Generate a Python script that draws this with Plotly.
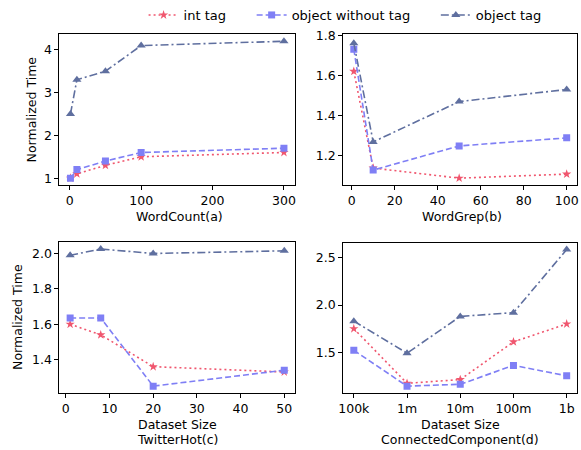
import plotly.graph_objects as go

# Panel (a) WordCount
wc_x = [1, 10, 50, 100, 300]
wc_int = [1.0, 1.1, 1.3, 1.5, 1.6]
wc_obj_no = [1.0, 1.2, 1.4, 1.6, 1.7]
wc_obj = [2.5, 3.3, 3.5, 4.1, 4.2]

# Panel (b) WordGrep
wg_x = [1, 10, 50, 100]
wg_int = [1.62, 1.14, 1.09, 1.11]
wg_obj_no = [1.73, 1.13, 1.25, 1.29]
wg_obj = [1.76, 1.27, 1.47, 1.53]

# Panel (c) TwitterHot
th_x = [1, 8, 20, 50]
th_int = [1.60, 1.54, 1.36, 1.33]
th_obj_no = [1.635, 1.635, 1.25, 1.34]
th_obj = [1.99, 2.025, 2.0, 2.015]

# Panel (d) ConnectedComponent
cc_x = ["100k", "1m", "10m", "100m", "1b"]
cc_int = [1.75, 1.17, 1.21, 1.61, 1.80]
cc_obj_no = [1.52, 1.14, 1.16, 1.36, 1.25]
cc_obj = [1.83, 1.49, 1.88, 1.92, 2.59]

series_names = ["int tag", "object without tag", "object tag"]
colors = ["#f0566e", "#7f7ff5", "#5f6f9f"]
dashes = ["2px,3px", "6px,3px", "8px,3px,2px,3px"]
symbols = ["star", "square", "triangle-up"]
msizes = [7, 7, 8]

W, H = 581, 450
def px_x(a, b):
    return [a / W, b / W]
def px_y(top, bottom):
    return [1 - bottom / H, 1 - top / H]

fig = go.Figure()

pad = "\u00a0" * 5
panels = [
    (wc_x, [wc_int, wc_obj_no, wc_obj], "x", "y"),
    (wg_x, [wg_int, wg_obj_no, wg_obj], "x2", "y2"),
    (th_x, [th_int, th_obj_no, th_obj], "x3", "y3"),
    (cc_x, [cc_int, cc_obj_no, cc_obj], "x4", "y4"),
]
for pi, (xs, ys, xa, ya) in enumerate(panels):
    for si in range(3):
        fig.add_trace(go.Scatter(
            x=xs, y=ys[si], xaxis=xa, yaxis=ya,
            mode="lines+markers", name=series_names[si] + pad,
            showlegend=(pi == 0),
            line=dict(color=colors[si], width=1.6, dash=dashes[si]),
            marker=dict(symbol=symbols[si], size=msizes[si], color=colors[si]),
        ))

font = dict(family="DejaVu Sans", size=12.5, color="#000")
axcommon = dict(showline=True, linecolor="#000", linewidth=1, mirror=True,
                ticks="outside", ticklen=4, tickcolor="#000", showgrid=False,
                zeroline=False, tickfont=font)

fig.update_layout(
    width=W, height=H,
    margin=dict(l=0, r=0, t=0, b=0),
    paper_bgcolor="white", plot_bgcolor="white",
    font=font,
    showlegend=True,
    legend=dict(orientation="h", x=0.241, y=1.021, xanchor="left", yanchor="top",
                font=dict(family="DejaVu Sans", size=13, color="#000"),
                bgcolor="rgba(0,0,0,0)", itemwidth=30),
    xaxis=dict(domain=px_x(55, 293), range=[-14.45, 315.45], tickvals=[0, 100, 200, 300], anchor="y", **axcommon),
    yaxis=dict(domain=px_y(26, 180), range=[0.84, 4.36], tickvals=[1, 2, 3, 4], anchor="x", **axcommon),
    xaxis2=dict(domain=px_x(341.7, 578.3), range=[-3.95, 104.95], tickvals=[0, 20, 40, 60, 80, 100], anchor="y2", **axcommon),
    yaxis2=dict(domain=px_y(26, 180), range=[1.056, 1.8035], tickvals=[1.2, 1.4, 1.6, 1.8], tickformat=".1f", anchor="x2", **axcommon),
    xaxis3=dict(domain=px_x(55, 293), range=[-1.45, 52.45], tickvals=[0, 10, 20, 30, 40, 50], anchor="y3", **axcommon),
    yaxis3=dict(domain=px_y(238.5, 392.7), range=[1.2113, 2.0638], tickvals=[1.4, 1.6, 1.8, 2.0], tickformat=".1f", anchor="x3", **axcommon),
    xaxis4=dict(domain=px_x(341.7, 578.3), range=[-0.2, 4.2], type="category", anchor="y4", **axcommon),
    yaxis4=dict(domain=px_y(239, 392.7), range=[1.0675, 2.6625], tickvals=[1.5, 2.0, 2.5], tickformat=".1f", anchor="x4", **axcommon),
)

anns = [
    ("WordCount(a)", 176, 212, 0),
    ("WordGrep(b)", 462, 212, 0),
    ("Dataset Size", 174, 425, 0),
    ("TwitterHot(c)", 174, 440, 0),
    ("Dataset Size", 460, 425, 0),
    ("ConnectedComponent(d)", 460, 440, 0),
    ("Normalized Time", 27, 103, -90),
    ("Normalized Time", 12, 315, -90),
]
for text, x, y, ang in anns:
    fig.add_annotation(text=text, x=x / W, y=1 - y / H, xref="paper", yref="paper",
                       showarrow=False, textangle=ang, font=font,
                       xanchor="center", yanchor="middle")

fig.write_html("out.html", config={"displayModeBar": False},
               post_script="document.body.style.margin='0';document.body.style.overflow='hidden';")
